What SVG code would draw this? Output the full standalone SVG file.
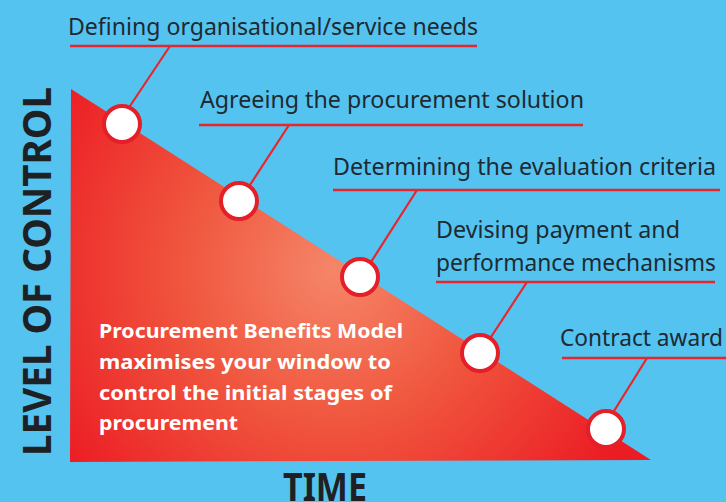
<svg xmlns="http://www.w3.org/2000/svg" width="726" height="502" viewBox="0 0 726 502">
  <defs>
    <radialGradient id="wedgeFill" gradientUnits="userSpaceOnUse" cx="335" cy="270" r="330">
      <stop offset="0" stop-color="#F58669"/>
      <stop offset="0.45" stop-color="#F0573F"/>
      <stop offset="1" stop-color="#EC1C24"/>
    </radialGradient>
    <style>
      .label { font-family: "Noto Sans", "Liberation Sans", sans-serif; font-size: 24px; fill: #1E2A31; }
      .rule { stroke: #E8252C; stroke-width: 2.6; fill: none; }
      .link { stroke: #E8252C; stroke-width: 2.2; fill: none; }
      .dot { fill: #FFFFFF; stroke: #E51F27; stroke-width: 4; }
      .axis { font-family: "Noto Sans", "Liberation Sans", sans-serif; font-weight: bold; fill: #1E2124; }
      .note { font-family: "Noto Sans", "Liberation Sans", sans-serif; font-weight: bold; font-size: 20px; fill: #FFFFFF; }
    </style>
  </defs>

  <rect x="0" y="0" width="726" height="502" fill="#55C3F0"/>

  <!-- declining control wedge -->
  <polygon id="wedge" points="71,89 651,460 70,462" fill="url(#wedgeFill)"/>

  <!-- axis titles -->
  <text class="axis" font-size="39" transform="translate(51,456) rotate(-90)" textLength="369" lengthAdjust="spacingAndGlyphs">LEVEL OF CONTROL</text>
  <text class="axis" font-size="40" x="283" y="501" textLength="84" lengthAdjust="spacingAndGlyphs">TIME</text>

  <!-- explanatory note -->
  <g id="note">
    <text class="note" x="99" y="338" textLength="304" lengthAdjust="spacingAndGlyphs">Procurement Benefits Model</text>
    <text class="note" x="99" y="369" textLength="292" lengthAdjust="spacingAndGlyphs">maximises your window to</text>
    <text class="note" x="99" y="400" textLength="293" lengthAdjust="spacingAndGlyphs">control the initial stages of</text>
    <text class="note" x="99" y="430" textLength="139" lengthAdjust="spacingAndGlyphs">procurement</text>
  </g>

  <!-- leader lines from stage labels to points on the wedge -->
  <g id="connectors">
    <line class="link" x1="170" y1="46" x2="130" y2="106"/>
    <line class="link" x1="289" y1="125" x2="250" y2="185"/>
    <line class="link" x1="417" y1="190" x2="371" y2="262"/>
    <line class="link" x1="527" y1="282" x2="491" y2="337"/>
    <line class="link" x1="647" y1="358" x2="614" y2="411"/>
  </g>

  <g id="stage1">
    <text class="label" x="68" y="35" textLength="410" lengthAdjust="spacingAndGlyphs">Defining organisational/service needs</text>
    <line class="rule" x1="70" y1="46" x2="477" y2="46"/>
    <circle class="dot" cx="122" cy="124" r="18"/>
  </g>

  <g id="stage2">
    <text class="label" x="200" y="108" textLength="384" lengthAdjust="spacingAndGlyphs">Agreeing the procurement solution</text>
    <line class="rule" x1="199" y1="125" x2="583" y2="125"/>
    <circle class="dot" cx="239" cy="201" r="18"/>
  </g>

  <g id="stage3">
    <text class="label" x="333" y="175" textLength="383" lengthAdjust="spacingAndGlyphs">Determining the evaluation criteria</text>
    <line class="rule" x1="333" y1="190" x2="720" y2="190"/>
    <circle class="dot" cx="360" cy="277" r="18"/>
  </g>

  <g id="stage4">
    <text class="label" x="436" y="238" textLength="244" lengthAdjust="spacingAndGlyphs">Devising payment and</text>
    <text class="label" x="436" y="271" textLength="280" lengthAdjust="spacingAndGlyphs">performance mechanisms</text>
    <line class="rule" x1="436" y1="282" x2="715" y2="282"/>
    <circle class="dot" cx="480" cy="353" r="18"/>
  </g>

  <g id="stage5">
    <text class="label" x="560" y="346" textLength="163" lengthAdjust="spacingAndGlyphs">Contract award</text>
    <line class="rule" x1="562" y1="358" x2="726" y2="358"/>
    <circle class="dot" cx="606" cy="429" r="18"/>
  </g>
</svg>
